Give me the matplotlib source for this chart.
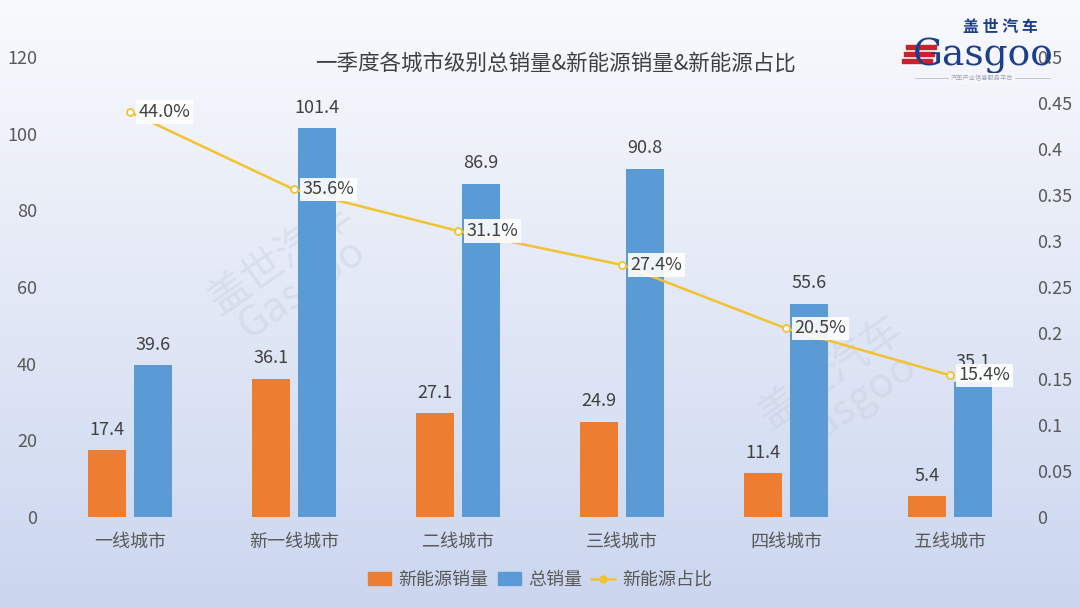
import numpy as np
import matplotlib.pyplot as plt
from matplotlib.patches import Patch, Rectangle
from matplotlib.lines import Line2D
from matplotlib.ticker import FuncFormatter

plt.rcParams['font.family'] = ['Noto Sans CJK SC', 'DejaVu Sans']

cities = ['一线城市', '新一线城市', '二线城市', '三线城市', '四线城市', '五线城市']
nev_sales = [17.4, 36.1, 27.1, 24.9, 11.4, 5.4]
total_sales = [39.6, 101.4, 86.9, 90.8, 55.6, 35.1]
nev_share = [0.440, 0.356, 0.311, 0.274, 0.205, 0.154]

orange = '#ED7D31'
blue = '#5B9BD5'
yellow = '#F2C230'
txt = '#595959'

fig = plt.figure(figsize=(10.8, 6.08), dpi=100)

# gradient background
bg = fig.add_axes([0, 0, 1, 1], zorder=-10)
top = np.array([249, 250, 253]) / 255
bot = np.array([203, 214, 239]) / 255
t = np.linspace(0, 1, 256)[:, None]
grad = top[None, :] * (1 - t) + bot[None, :] * t
bg.imshow(grad[:, None, :], aspect='auto', extent=[0, 1, 0, 1])
bg.axis('off')

# watermarks
for (wx, wy) in [(0.27, 0.55), (0.78, 0.36)]:
    fig.text(wx, wy, '盖世汽车\nGasgoo', fontsize=30, color='#c3cad8', alpha=0.35,
             rotation=35, ha='center', va='center', zorder=-5, linespacing=0.9)

ax = fig.add_axes([48 / 1080, 91 / 608, 984 / 1080, 460 / 608])
ax.patch.set_alpha(0)
x = np.arange(len(cities))
w = 0.23
off = 0.14
b1 = ax.bar(x - off, nev_sales, w, color=orange, zorder=2)
b2 = ax.bar(x + off, total_sales, w, color=blue, zorder=2)
for rect, v in zip(list(b1) + list(b2), nev_sales + total_sales):
    ax.text(rect.get_x() + rect.get_width() / 2, v + 3, f'{v:.1f}', ha='center',
            va='bottom', fontsize=13, color='#404040')

ax.set_xlim(-0.5, len(cities) - 0.5)
ax.set_ylim(0, 120)
ax.set_yticks(np.arange(0, 121, 20))
ax.set_xticks(x)
ax.set_xticklabels(cities)
ax.tick_params(axis='y', length=0, pad=8, labelsize=13, labelcolor=txt)
ax.tick_params(axis='x', length=0, pad=11, labelsize=13, labelcolor=txt)
for s in ax.spines.values():
    s.set_visible(False)

ax2 = ax.twinx()
ax2.set_ylim(0, 0.5)
ax2.set_yticks(np.arange(0, 0.51, 0.05))
ax2.yaxis.set_major_formatter(FuncFormatter(lambda v, p: f'{v:.2f}'.rstrip('0').rstrip('.') if v else '0'))
ax2.tick_params(axis='y', length=0, pad=4, labelsize=13, labelcolor=txt)
for s in ax2.spines.values():
    s.set_visible(False)
ax2.plot(x, nev_share, color=yellow, lw=1.8, marker='o', ms=5,
         mfc='white', mec=yellow, mew=1.3, zorder=3)
for xi, v in zip(x, nev_share):
    ax2.annotate(f'{v * 100:.1f}%', (xi, v), xytext=(6, 0), textcoords='offset points',
                 ha='left', va='center', fontsize=13, color='#404040', zorder=4,
                 bbox=dict(boxstyle='square,pad=0.15', fc='white', ec='none', alpha=0.9))

fig.text(0.514, 1 - 64 / 608, '一季度各城市级别总销量&新能源销量&新能源占比',
         ha='center', va='center', fontsize=15.5, color='#404040')

# logo
fig.text(1000 / 1080, 1 - 27 / 608, '盖 世 汽 车', ha='center', va='center', fontsize=11.5,
         color='#1d3f8a', fontweight='bold')
fig.text(983 / 1080, 1 - 56 / 608, 'Gasgoo', ha='center', va='center', fontsize=27,
         color='#1d3f8a', family=['DejaVu Serif'])
for i in range(3):
    fig.patches.append(Rectangle(((906 - i * 2) / 1080, 1 - (49 + i * 7) / 608), 30 / 1080,
                                 4 / 608, transform=fig.transFigure, color='#c8232c'))
fig.lines.append(Line2D([915 / 1080, 1050 / 1080], [1 - 78 / 608] * 2, lw=0.6,
                        color='#b8bfcc', transform=fig.transFigure))
fig.text(982 / 1080, 1 - 78 / 608, '汽车产业信息服务平台', ha='center', va='center', fontsize=4.5,
         color='#9aa3b5', bbox=dict(fc='#f6f7fb', ec='none', pad=1))

handles = [Patch(color=orange), Patch(color=blue),
           Line2D([], [], color=yellow, lw=1.8, marker='o', ms=5, mfc=yellow, mec=yellow)]
fig.legend(handles, ['新能源销量', '总销量', '新能源占比'], loc='center',
           bbox_to_anchor=(0.5, 1 - 580 / 608), ncol=3, frameon=False, fontsize=13,
           labelcolor=txt, handlelength=1.3, handleheight=0.7, columnspacing=0.5,
           handletextpad=0.4)

plt.savefig('out.png', dpi=100)
